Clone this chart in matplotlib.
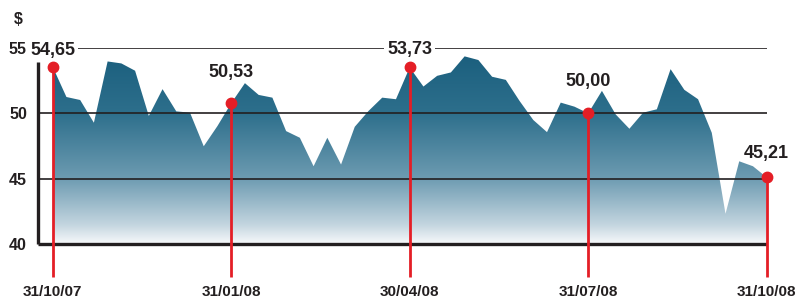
import matplotlib
matplotlib.use("Agg")
import matplotlib.pyplot as plt
import numpy as np
from matplotlib.colors import LinearSegmentedColormap
from matplotlib.patches import Polygon

# ---- data ----
prices = [53.56, 51.25, 51.02, 49.28, 53.97, 53.82, 53.26, 49.80, 51.85, 50.15,
          50.05, 47.48, 49.03, 50.77, 52.31, 51.41, 51.20, 48.64, 48.13, 45.95,
          48.13, 46.08, 48.97, 50.18, 51.20, 51.08, 53.51, 52.05, 52.87, 53.13,
          54.36, 54.08, 52.80, 52.56, 50.95, 49.49, 48.56, 50.82, 50.51, 50.00,
          51.72, 49.92, 48.82, 50.05, 50.31, 53.38, 51.80, 51.08, 48.51, 42.31,
          46.33, 45.95, 45.10]
marker_idx = [0, 13, 26, 39, 52]
marker_labels = ["54,65", "50,53", "53,73", "50,00", "45,21"]
date_labels = ["31/10/07", "31/01/08", "30/04/08", "31/07/08", "31/10/08"]
yticks = [40, 45, 50, 55]
ytick_labels = ["40", "45", "50", "55"]

FONT = ["Liberation Sans", "DejaVu Sans"]
DARK = "#231f20"
RED = "#e41e26"

W, H = 799, 303
fig = plt.figure(figsize=(W / 100, H / 100), dpi=100)
x = np.arange(len(prices))
px_per_idx = (766.7 - 52.7) / 52
left_px, right_px = 38, 767
ax = fig.add_axes([left_px / W, (H - 244) / H, (right_px - left_px) / W, (244 - 48) / H])
xlim = (-(52.7 - left_px) / px_per_idx, 52 + (right_px - 766.7) / px_per_idx)

# gradient fill
cmap = LinearSegmentedColormap.from_list(
    "g", [(0.0, "#f7f9fb"), (0.1, "#c3d5df"), (0.34, "#6d9bb1"),
          (0.68, "#2d6f8c"), (1.0, "#1a5e7d")])
top = 54.7
grad = np.linspace(0, 1, 256).reshape(-1, 1)
im = ax.imshow(grad, cmap=cmap, origin="lower", aspect="auto",
               extent=[x[0], x[-1], 40, top], zorder=1)
poly_pts = np.column_stack([np.r_[x, x[-1], x[0]], np.r_[prices, 40, 40]])
poly = Polygon(poly_pts, closed=True, facecolor="none", edgecolor="none")
ax.add_patch(poly)
im.set_clip_path(poly)
ax.set_xlim(*xlim)
ax.set_ylim(40, 55)

# grid lines
for v in [45, 50, 55]:
    ax.axhline(v, color=DARK, lw=1.2, zorder=2)

# spines
for s in ax.spines.values():
    s.set_visible(False)
ax.plot([xlim[0], x[-1]], [40, 40], color=DARK, lw=2.4, zorder=3,
        solid_capstyle="butt", clip_on=False)
ax.plot([xlim[0]] * 2, [40, 53.93], color=DARK, lw=2.4, zorder=3,
        solid_capstyle="butt", clip_on=False)

# ticks
ax.set_xticks([])
ax.set_yticks(yticks)
ax.set_yticklabels(ytick_labels, fontfamily=FONT, fontweight="bold",
                   fontsize=11.5, color=DARK)
ax.tick_params(axis="y", length=0, pad=8)
fig.text(18 / W, 1 - 20 / H, "$", ha="center", va="center",
         fontfamily=FONT, fontweight="bold", fontsize=11.5, color=DARK)

# markers
label_offsets = [16, 30, 17, 31, 23]
for i, lab, dy, dl in zip(marker_idx, marker_labels, label_offsets, date_labels):
    ax.plot([x[i], x[i]], [37.45, prices[i]], color=RED, lw=2, zorder=4,
            clip_on=False, solid_capstyle="butt")
    ax.plot(x[i], prices[i], "o", color=RED, ms=7.5, zorder=5, clip_on=False)
    bbox = dict(facecolor="white", edgecolor="none", pad=2) if dy < 20 else None
    ax.annotate(lab, (x[i], prices[i]), xytext=(0, dy * 0.75), textcoords="offset points",
                ha="center", va="center", fontfamily=FONT, fontweight="bold",
                fontsize=13, color=DARK, zorder=6, bbox=bbox, annotation_clip=False)
    ax.text(x[i], 36.3, dl, ha="center", va="center", fontfamily=FONT,
            fontweight="bold", fontsize=11, color=DARK, clip_on=False)

fig.savefig("out.png", dpi=100, facecolor="white")
